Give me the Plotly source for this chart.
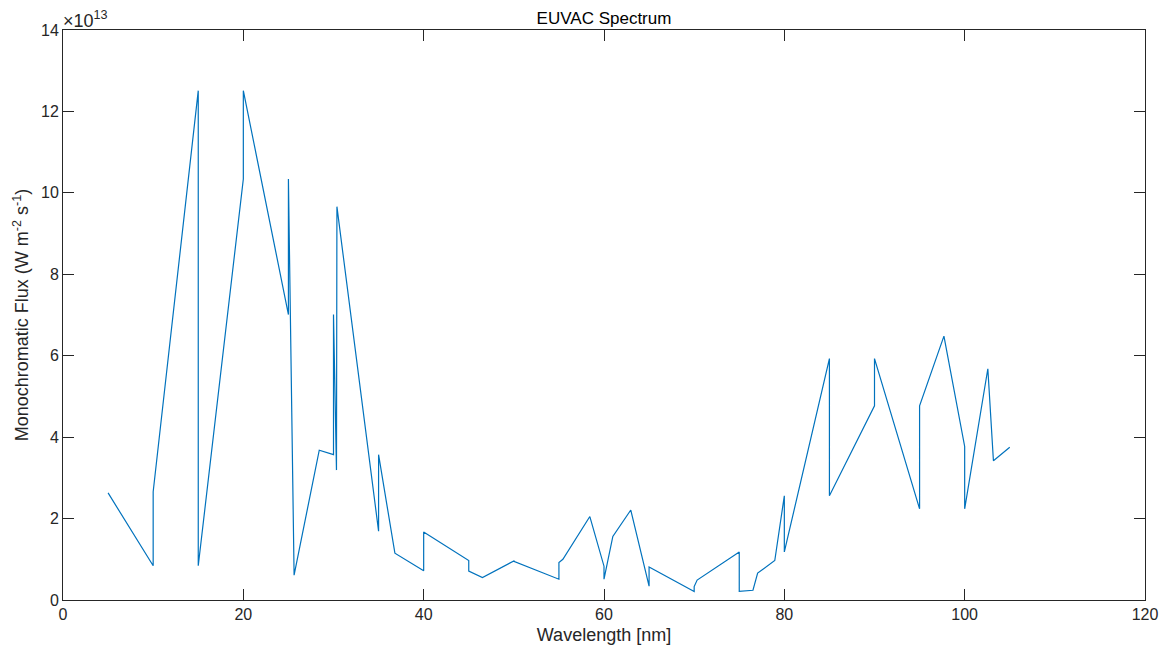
import plotly.graph_objects as go

# Wavelength [nm] of each vertex, in plotting order
wavelength = [5, 10, 10, 15, 15, 20, 20, 25, 25,
              25.63, 28.42, 30, 30, 30.33, 30.38,
              35, 35, 36.81, 40, 40,
              45, 45, 46.52, 50, 50,
              55, 55, 55.44, 58.43,
              60, 60, 60.98, 62.97,
              65, 65, 70, 70, 70.33,
              75, 75, 76.52, 77.04, 78.94,
              80, 80, 85, 85,
              90, 90, 95, 95, 97.70,
              100, 100, 102.57, 103.19, 105]

# Monochromatic flux, in units of 1e13
flux_e13 = [2.63, 0.84, 2.66, 12.51, 0.84, 10.34, 12.51, 7.01, 10.34,
            0.61, 3.68, 3.57, 7.01, 3.19, 9.66,
            1.69, 3.57, 1.15, 0.72, 1.67,
            0.97, 0.71, 0.55, 0.96, 0.95,
            0.51, 0.92, 1.00, 2.05,
            0.83, 0.51, 1.56, 2.21,
            0.34, 0.81, 0.21, 0.33, 0.49,
            1.18, 0.21, 0.24, 0.66, 0.97,
            2.56, 1.18, 5.93, 2.56,
            4.77, 5.93, 2.24, 4.77, 6.48,
            3.77, 2.24, 5.68, 3.42, 3.75]

x_ticks = [0, 20, 40, 60, 80, 100, 120]
y_ticks = [0, 2, 4, 6, 8, 10, 12, 14]
exponent_label = "×10<sup>13</sup>"

AX = "#262626"
FONT = "Liberation Sans, Arial, Helvetica, sans-serif"

fig = go.Figure()
fig.add_trace(go.Scatter(
    x=wavelength, y=flux_e13, mode="lines",
    line=dict(color="#0072BD", width=1.2),
    showlegend=False, hoverinfo="x+y",
))

axis_common = dict(
    showgrid=False, zeroline=False, showline=True, linecolor=AX, linewidth=1,
    mirror="ticks", ticks="inside", ticklen=11, tickwidth=1, tickcolor=AX,
    tickfont=dict(family=FONT, size=16, color=AX), automargin=False,
)

fig.update_xaxes(range=[0, 120], tickvals=x_ticks,
                 ticktext=[str(v) for v in x_ticks],
                 title=dict(text="Wavelength [nm]", standoff=6,
                            font=dict(family=FONT, size=18, color=AX)),
                 **axis_common)
fig.update_yaxes(range=[0, 14], tickvals=y_ticks,
                 ticktext=[str(v) for v in y_ticks],
                 title=dict(text="Monochromatic Flux (W m<sup>-2</sup> s<sup>-1</sup>)",
                            standoff=7,
                            font=dict(family=FONT, size=18, color=AX)),
                 **axis_common)

fig.update_layout(
    width=1173, height=650,
    margin=dict(l=63, r=28, t=30, b=50, autoexpand=False),
    paper_bgcolor="white", plot_bgcolor="white",
    title=dict(text="EUVAC Spectrum", x=0.5, xref="paper", xanchor="center",
               y=1, yref="paper", yanchor="bottom", pad=dict(b=6),
               font=dict(family=FONT, size=17, color="#000000")),
    font=dict(family=FONT, color=AX),
    annotations=[dict(text=exponent_label, xref="paper", yref="paper",
                      x=0, y=1, xanchor="left", yanchor="bottom",
                      xshift=-2, yshift=-3, showarrow=False,
                      font=dict(family=FONT, size=18, color=AX))],
)

fig.write_html("out.html")
